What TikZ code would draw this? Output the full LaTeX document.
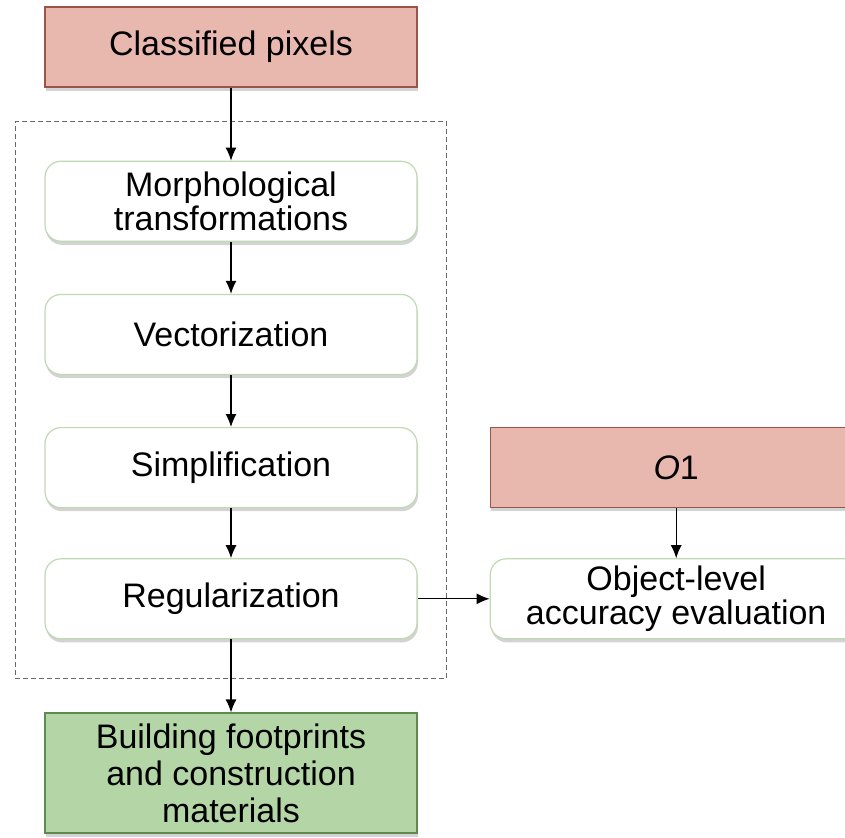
\documentclass[tikz,border=0pt]{standalone}
\usepackage{fontspec}
\setmainfont{Liberation Sans}
\usepackage{xcolor}
\usepackage{tikz}
\usetikzlibrary{positioning,arrows.meta,shadows,fit}

\definecolor{inputred}{HTML}{E8B8AE}
\definecolor{inputborder}{HTML}{9A5448}
\definecolor{outputgreen}{HTML}{B4D6A6}
\definecolor{outputborder}{HTML}{5E8A52}
\definecolor{stepborder}{HTML}{BFD9B2}

\begin{document}
\begin{tikzpicture}[
	font=\fontsize{17}{17}\selectfont,
	every node/.style={
		align=center,
		minimum width=186pt,
		minimum height=40pt,
		inner sep=2pt
	},
	inbox/.style={
		rectangle, draw=inputborder, fill=inputred, line width=0.6pt,
		drop shadow={shadow xshift=0.5pt, shadow yshift=-1.8pt, opacity=0.35}
	},
	stepbox/.style={
		rectangle, rounded corners=8pt, draw=stepborder, fill=white, line width=0.6pt,
		drop shadow={shadow xshift=0.5pt, shadow yshift=-1.8pt, opacity=0.35}
	},
	outbox/.style={
		rectangle, draw=outputborder, fill=outputgreen, line width=0.6pt,
		minimum height=60pt, font=\fontsize{17}{18.5}\selectfont,
		drop shadow={shadow xshift=0.5pt, shadow yshift=-1.8pt, opacity=0.35}
	},
	flow/.style={-{Latex[length=6.5pt,width=5.5pt]}, line width=0.6pt}
]
\useasboundingbox (0,0) rectangle (422.5pt,-418.5pt);

\node[inbox] (pixels) at (115.5pt,-23.5pt) {Classified pixels};
\node[stepbox, below=36.5pt of pixels] (morph) {Morphological\\transformations};
\node[stepbox, below=26pt of morph] (vector) {Vectorization};
\node[stepbox, below=26pt of vector] (simplify) {Simplification};
\node[stepbox, below=25pt of simplify] (regular) {Regularization};
\node[outbox, below=36.5pt of regular] (footprints) {Building footprints\\and construction\\materials};

\node[inbox, right=36pt of simplify] (o1) {\textit{O}1};
\node[stepbox, right=36pt of regular] (accuracy) {Object-level\\accuracy evaluation};

\node[draw=black!60, dash pattern=on 2.5pt off 1.5pt, line width=0.4pt,
	inner xsep=14.5pt, inner ysep=19.5pt, fit=(morph) (regular)] (chain) {};

\draw[flow] (pixels) -- (morph);
\draw[flow] (morph) -- (vector);
\draw[flow] (vector) -- (simplify);
\draw[flow] (simplify) -- (regular);
\draw[flow] (regular) -- (footprints);
\draw[flow] (regular) -- (accuracy);
\draw[flow] (o1) -- (accuracy);
\end{tikzpicture}
\end{document}
